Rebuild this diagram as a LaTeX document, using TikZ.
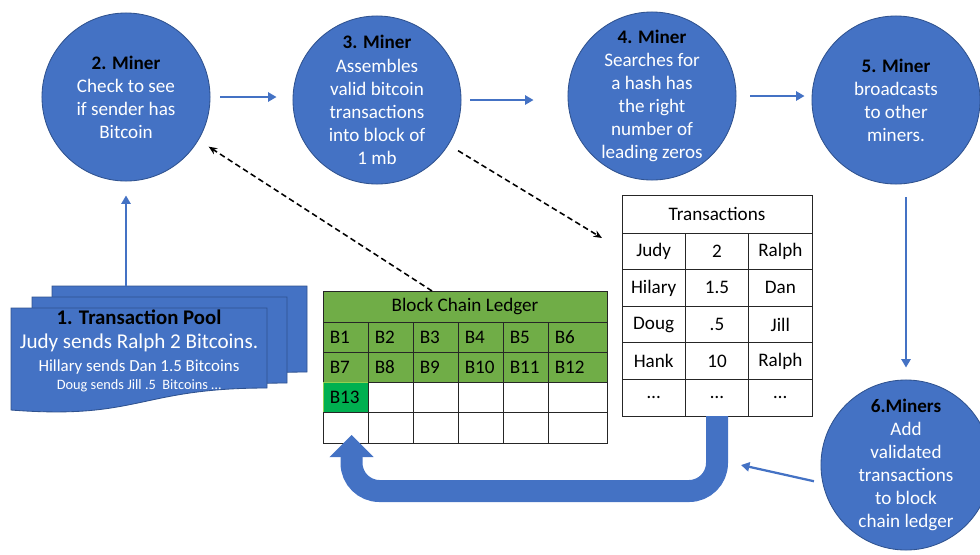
\documentclass[tikz,border=0pt]{standalone}
\usepackage{fontspec}
\setmainfont{Carlito}
\usepackage{tikz}
\usetikzlibrary{arrows.meta, positioning, calc}
\definecolor{minerblue}{HTML}{4472C4}
\definecolor{minerline}{HTML}{2F528F}
\definecolor{ledgergreen}{HTML}{70AD47}
\definecolor{blockgreen}{HTML}{00B050}
\definecolor{blockedge}{HTML}{92D050}
\newcommand{\cellfont}{\fontsize{13.6}{15}\selectfont}
% one sheet of the pool: left, top, right, right bottom, left bottom
\newcommand{\docsheet}[5]{%
  \filldraw[sheet] (#1,#2) -- (#3,#2) -- (#3,#4)
    .. controls ({(#1+#3)/2},#4) and ({(#1+#3)/2},#5+10) .. (#1,#5) -- cycle;}

\begin{document}
\begin{tikzpicture}[x=0.025cm, y=-0.025cm,
  miner/.style={circle, fill=minerblue, draw=minerline, line width=0.6pt,
    minimum size=4.2cm, inner sep=0pt, align=center, text=white,
    font=\fontsize{13.6}{16.4}\selectfont},
  flow/.style={-{Triangle[length=6pt, width=6.5pt]}, line width=1.6pt, draw=minerblue},
  dasharrow/.style={-{Stealth[length=6pt, width=5pt]}, line width=1.1pt,
    dash pattern=on 4pt off 2.5pt},
  bigarrow/.style={line width=0.55cm, draw=minerblue, rounded corners=0.7cm,
    -{Triangle[length=0.55cm, width=1.1cm, line width=0pt]}},
  sheet/.style={fill=minerblue, draw=minerline, line width=0.6pt},
  pooltext/.style={text=white, anchor=base, inner sep=0pt},
  blkcell/.style={draw=black!85, line width=0.6pt, anchor=north west, outer sep=0pt,
    minimum height=0.756cm, inner xsep=0.17cm, inner ysep=0pt, align=left, font=\cellfont},
  txcell/.style={draw=black!85, line width=0.6pt, anchor=north west, outer sep=0pt,
    fill=white, minimum width=1.583cm, minimum height=0.915cm, font=\cellfont}]
  \useasboundingbox (0,0) rectangle (980,554);

  % transaction pool
  \docsheet{52}{286}{307}{372}{394}
  \docsheet{32}{297}{287}{383}{405}
  \docsheet{11}{308}{267}{388}{410}
  \coordinate (pooltop) at (126,286);
  \node[pooltext, text=black, font=\bfseries\fontsize{14.8}{17}\selectfont] (pooltitle)
    at (139,324) {1. Transaction Pool};
  \node[pooltext, font=\fontsize{15}{17}\selectfont] (pool1) at (139,348)
    {Judy sends Ralph 2 Bitcoins.};
  \node[pooltext, font=\fontsize{12}{14}\selectfont] (pool2) at (139,371)
    {Hillary sends Dan 1.5 Bitcoins};
  \node[pooltext, font=\fontsize{10.2}{12}\selectfont] (pool3) at (139,389)
    {Doug sends Jill .5 \ Bitcoins \dots};

  % miners
  \node[miner] (c2) at (126,97) {\textbf{\color{black}2. Miner}\\Check to see\\if sender has\\Bitcoin};
  \node[miner] (c3) at (377,100) {\textbf{\color{black}3. Miner}\\Assembles\\valid bitcoin\\transactions\\into block of\\1 mb};
  \node[miner] (c4) at (652,96) {\textbf{\color{black}4. Miner}\\Searches for\\a hash has\\the right\\number of\\leading zeros};
  \node[miner] (c5) at (896,100) {\textbf{\color{black}5. Miner}\\broadcasts\\to other\\miners.};
  \node[miner, minimum size=4.25cm] (c6) at (906,465) {\textbf{\color{black}6.Miners}\\Add\\validated\\transactions\\to block\\chain ledger};

  % block chain ledger
  \node[draw=black!85, line width=0.6pt, fill=ledgergreen, anchor=north west, outer sep=0pt,
    minimum width=7.1cm, minimum height=0.775cm, font=\cellfont] (ledger) at (323,291)
    {Block Chain Ledger};
  \foreach \c/\cw in {1/45,2/45,3/45,4/45,5/45,6/59}
    \foreach \r in {1,...,4} {
      \pgfmathsetmacro{\cx}{323+(\c-1)*45}
      \pgfmathsetmacro{\tw}{\cw*0.025-0.34}
      \pgfmathtruncatemacro{\n}{(\r-1)*6+\c}
      \def\celldraw{black!85}
      \ifnum\r<3 \def\cellfill{ledgergreen}\def\cellname{B\n}%
      \else\ifnum\n=13 \def\cellfill{blockgreen}\def\celldraw{blockedge}\def\cellname{B13}%
      \else\def\cellfill{white}\def\cellname{}\fi\fi
      \node[blkcell, fill=\cellfill, draw=\celldraw, text width=\tw cm] (blk-\r-\c)
        at (\cx,{322+(\r-1)*30.25}) {\cellname};
    }

  % transactions
  \node[txcell, minimum width=4.75cm, minimum height=0.95cm] (txhead) at (622,195) {Transactions};
  \foreach \who/\amt/\dest [count=\r] in {Judy/2/Ralph, Hilary/1.5/Dan, Doug/.5/Jill,
      Hank/10/Ralph, \dots/\dots/\dots} {
    \node[txcell] (tx-\r-1) at (622,{233+(\r-1)*36.6}) {\who};
    \node[txcell] (tx-\r-2) at (685.33,{233+(\r-1)*36.6}) {\amt};
    \node[txcell] (tx-\r-3) at (748.67,{233+(\r-1)*36.6}) {\dest};
  }
  \coordinate (bandside) at (741,465);

  % flow between the steps
  \draw[flow] (pooltop) -- ([yshift=-0.35cm]c2.south);
  \draw[flow] ([xshift=0.25cm]c2.east) -- ([xshift=-0.4cm]c2.east -| c3.west);
  \draw[flow] ([xshift=0.225cm]c3.east) -- ([xshift=-0.85cm]c3.east -| c4.west);
  \draw[flow] ([xshift=0.35cm]c4.east) -- ([xshift=-0.175cm]c4.east -| c5.west);
  \draw[flow] ([yshift=-0.325cm]c5.south -| c6.north) -- ([yshift=0.3cm]c6.north);
  \draw[flow] ([shift={(190:0.2cm)}]c6.190) -- (bandside);
  \draw[dasharrow] ([xshift=-0.825cm]ledger.north) -- ([shift={(-31:0.3cm)}]c2.-31);
  \draw[dasharrow] ([shift={(-32:0.28cm)}]c3.-32) -- ([xshift=-0.5cm, yshift=-0.125cm]tx-1-1.north west);
  \draw[bigarrow] (tx-5-2.south) -- ++(0,75) -| ([xshift=0.15cm, yshift=0.2cm]blk-4-1.south);
\end{tikzpicture}
\end{document}
